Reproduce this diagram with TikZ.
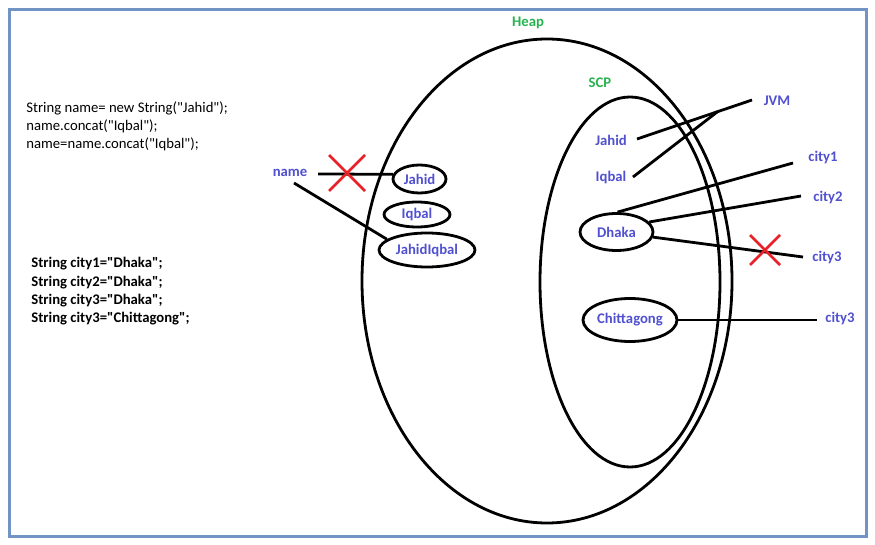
\documentclass[tikz,border=0pt]{standalone}
\usepackage{fontspec}
\setmainfont{Carlito}[Ligatures=TeXOff]
\usetikzlibrary{shapes.geometric,calc}
\definecolor{framecol}{RGB}{114,148,196}
\definecolor{labelcol}{RGB}{80,80,208}
\definecolor{poolcol}{RGB}{40,178,80}
\definecolor{crosscol}{RGB}{232,32,40}
\newcommand{\redcross}[3]{\draw[crosscol, line width=2.5]({#1-#3},{#2-#3})--({#1+#3},{#2+#3}) ({#1+#3},{#2-#3})--({#1-#3},{#2+#3});}

\begin{document}
\fontsize{14.7}{17}\selectfont
\begin{tikzpicture}[x=1pt, y=-1pt, line width=2.8,
	obj/.style={draw, ellipse, inner sep=0, font=\bfseries, text=labelcol},
	lbl/.style={font=\bfseries, text=labelcol, inner sep=0},
	pool/.style={font=\bfseries, text=poolcol, inner sep=0},
	code/.style={anchor=west, inner sep=0}]
\useasboundingbox (0,0) rectangle (875,545);
\draw[framecol, line width=3](9.5,9.5) rectangle (866.5,536.5);

% source code
\foreach \s [count=\i] in {{String name= new String("Jahid");},{name.concat("Iqbal");},{name=name.concat("Iqbal");}}{
	\node[code] (src\i) at ({25},{108+18*(\i-1)}) {\s};
}
\foreach \s [count=\i] in {{String city1="Dhaka";},{String city2="Dhaka";},{String city3="Dhaka";},{String city3="Chittagong";}}{
	\node[code, font=\bfseries] (decl\i) at ({30},{264+18.3*(\i-1)}) {\s};
}

% heap and string constant pool
\node[draw, ellipse, minimum width=370, minimum height=484] (heap) at (547,281) {};
\node[draw, ellipse, minimum width=180, minimum height=370] (scp) at (630,282) {};
\node[pool] (heapL) at (528,23) {Heap};
\node[pool] (scpL) at (600,83) {SCP};

% objects
\node[obj, minimum width=53, minimum height=28] (jahidH) at (419.5,179) {Jahid};
\node[obj, minimum width=66, minimum height=25] (iqbalH) at (417,214.5) {Iqbal};
\node[obj, minimum width=96, minimum height=34] (jiH) at (427,250) {JahidIqbal};
\node[obj, minimum width=73, minimum height=37] (dhaka) at (616.5,232) {Dhaka};
\node[obj, minimum width=94, minimum height=43] (ctg) at (630,320) {Chittagong};
\node[lbl] (jahidS) at (611,140) {Jahid};
\node[lbl] (iqbalS) at (611,177) {Iqbal};

% references
\node[lbl] (nameV) at (290,173) {name};
\node[lbl] (jvm) at (777,101) {JVM};
\node[lbl] (city1) at (823,158) {city1};
\node[lbl] (city2) at (828,197) {city2};
\node[lbl] (city3) at (827,257) {city3};
\node[lbl] (city3b) at (840,318) {city3};

\coordinate (nameA) at (318,174);
\coordinate (nameB) at (294,183);
\coordinate (jvmA) at (752,100);
\coordinate (jahidA) at (637,139);
\coordinate (iqbalA) at (633,177);
\coordinate (jvmJ) at ($(jvmA)!0.3!(jahidA)$);
\coordinate (c1) at (793,163);
\coordinate (c2) at (801,196);
\coordinate (c3) at (803,257);
\coordinate (c3b) at (817,320);

\draw (nameA)--(jahidH.170);
\draw (nameB)--(jiH.165);
\draw (jvmA)--(jahidA);
\draw (iqbalA)--(jvmJ);
\draw (dhaka.87)--(c1);
\draw (dhaka.17)--(c2);
\draw (dhaka.352)--(c3);
\draw (ctg.east)--(c3b);

\redcross{347}{173}{18}
\redcross{765}{250}{15}
\end{tikzpicture}
\end{document}
